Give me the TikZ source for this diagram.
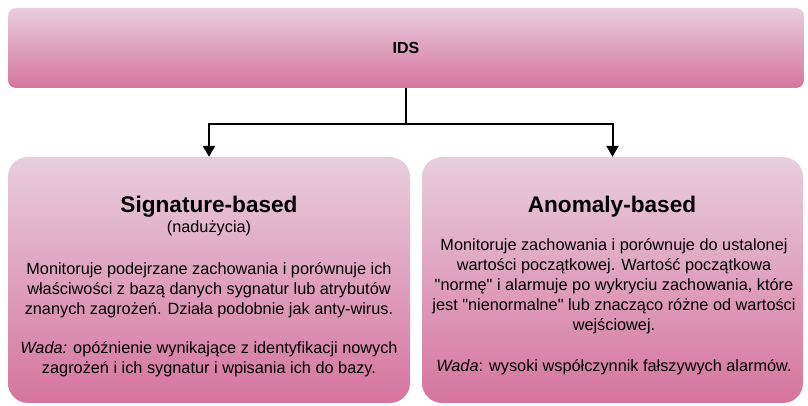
\documentclass[tikz,border=0pt]{standalone}
\usepackage{fontspec}
\setmainfont{Liberation Sans}
\usetikzlibrary{arrows.meta}
\definecolor{pinktop}{RGB}{232,206,221}
\definecolor{pinkbot}{RGB}{214,116,158}
\tikzset{
  box/.style={draw=none, top color=pinktop, bottom color=pinkbot, inner sep=0pt},
  topbox/.style={box, rounded corners=8pt, minimum width=796pt, minimum height=80pt},
  lowbox/.style={box, rounded corners=20pt, minimum height=246pt},
  title/.style={font=\fontsize{22.6}{26}\selectfont\bfseries, anchor=base, inner sep=0pt},
  body/.style={font=\fontsize{16.3}{20}\selectfont, align=center, anchor=north, inner sep=0pt},
  conn/.style={line width=2pt, -{Triangle[width=12pt,length=11pt]}},
  plain/.style={line width=2pt}
}
\begin{document}
\begin{tikzpicture}[x=1pt,y=1pt]
\useasboundingbox (0,0) rectangle (808,406);
\node[topbox] (ids) at (406,358) {};
\node[font=\fontsize{16}{18}\selectfont\bfseries, inner sep=0pt] (idst) at (ids.center) {IDS};
\node[lowbox, minimum width=402pt] (sig) at (209,126) {};
\node[lowbox, minimum width=381pt] (ano) at (612.5,126) {};
% connectors
\coordinate (j) at ([yshift=-36pt]ids.south);
\draw[plain] (ids.south) -- (j);
\draw[conn] (j) -| (sig.north);
\draw[conn] (j) -| (ano.north);
% left texts
\node[title] (sigt) at (209,193) {Signature-based};
\node[font=\fontsize{16.3}{20}\selectfont, anchor=base, inner sep=0pt] (sigs) at (209,173) {(nadużycia)};
\node[body] (sigb) at (209,144) {Monitoruje podejrzane zachowania i porównuje ich\\
właściwości z bazą danych sygnatur lub atrybutów\\
znanych zagrożeń. Działa podobnie jak anty-wirus.\\[19pt]
\textit{Wada:} opóźnienie wynikające z identyfikacji nowych\\
zagrożeń i ich sygnatur i wpisania ich do bazy.};
% right texts
\node[title] (anot) at (612,193) {Anomaly-based};
\node[body] (anob) at (614,168) {Monitoruje zachowania i porównuje do ustalonej\\
wartości początkowej. Wartość początkowa\\
\textquotedbl normę\textquotedbl{} i alarmuje po wykryciu zachowania, które\\
jest \textquotedbl nienormalne\textquotedbl{} lub znacząco różne od wartości\\
wejściowej.\\[21pt]
\textit{Wada}: wysoki współczynnik fałszywych alarmów.};
\end{tikzpicture}
\end{document}
